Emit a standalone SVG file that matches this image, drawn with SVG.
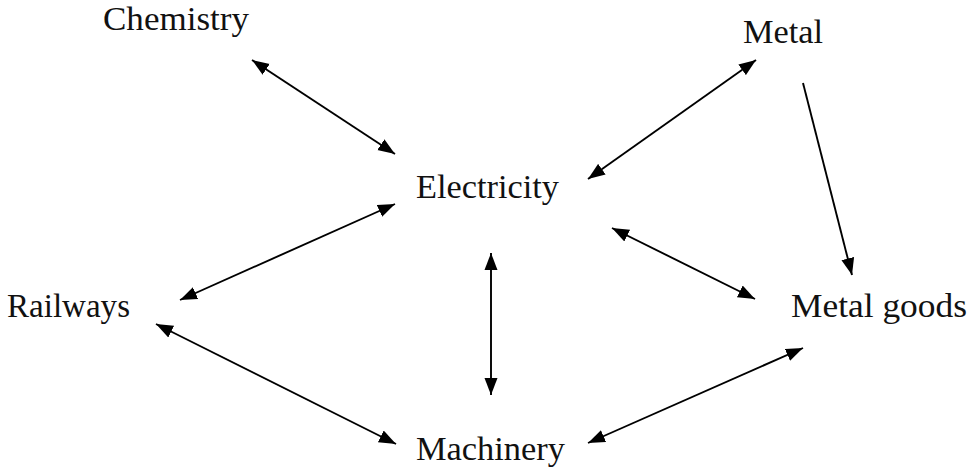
<svg xmlns="http://www.w3.org/2000/svg" width="969" height="471" viewBox="0 0 969 471">
  <style>
    .lbl { font-family: "Liberation Serif", "Times New Roman", serif; font-size: 34px; fill: #111; }
    .conn { stroke: #000; stroke-width: 1.9; fill: none; }
  </style>
  <defs>
    <marker id="ah" markerUnits="userSpaceOnUse" markerWidth="18" markerHeight="14" viewBox="0 0 18 14" refX="17" refY="7" orient="auto-start-reverse">
      <polygon points="0,0.5 17,7 0,13.5" fill="#000"/>
    </marker>
  </defs>
  <rect width="969" height="471" fill="#fff"/>
  <g id="connectors">
    <line class="conn" x1="252" y1="60" x2="395" y2="154" marker-start="url(#ah)" marker-end="url(#ah)"/>
    <line class="conn" x1="756" y1="60" x2="588" y2="179" marker-start="url(#ah)" marker-end="url(#ah)"/>
    <line class="conn" x1="803" y1="83" x2="852" y2="275" marker-end="url(#ah)"/>
    <line class="conn" x1="395" y1="204" x2="180" y2="300" marker-start="url(#ah)" marker-end="url(#ah)"/>
    <line class="conn" x1="612" y1="228" x2="755" y2="299" marker-start="url(#ah)" marker-end="url(#ah)"/>
    <line class="conn" x1="491" y1="253" x2="491" y2="395" marker-start="url(#ah)" marker-end="url(#ah)"/>
    <line class="conn" x1="156" y1="324" x2="396" y2="444" marker-start="url(#ah)" marker-end="url(#ah)"/>
    <line class="conn" x1="803" y1="348" x2="588" y2="443" marker-start="url(#ah)" marker-end="url(#ah)"/>
  </g>
  <g id="chemistry"><text class="lbl" x="103" y="30" textLength="146" lengthAdjust="spacingAndGlyphs">Chemistry</text></g>
  <g id="metal"><text class="lbl" x="743" y="43" textLength="80" lengthAdjust="spacingAndGlyphs">Metal</text></g>
  <g id="electricity"><text class="lbl" x="416" y="198" textLength="143" lengthAdjust="spacingAndGlyphs">Electricity</text></g>
  <g id="railways"><text class="lbl" x="7" y="317" textLength="123" lengthAdjust="spacingAndGlyphs">Railways</text></g>
  <g id="metal-goods"><text class="lbl" x="791" y="317" textLength="176" lengthAdjust="spacingAndGlyphs">Metal goods</text></g>
  <g id="machinery"><text class="lbl" x="416" y="460" textLength="149" lengthAdjust="spacingAndGlyphs">Machinery</text></g>
</svg>
